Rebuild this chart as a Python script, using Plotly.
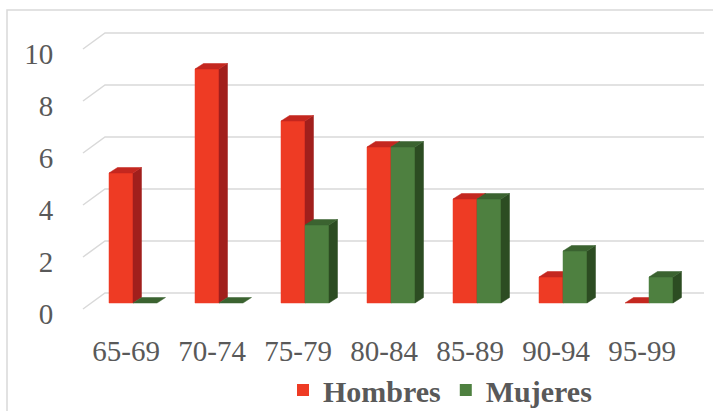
import plotly.graph_objects as go

categories = ["65-69", "70-74", "75-79", "80-84", "85-89", "90-94", "95-99"]
hombres = [5, 9, 7, 6, 4, 1, 0]
mujeres = [0, 0, 3, 6, 4, 2, 1]
y_ticks = [0, 2, 4, 6, 8, 10]

W, H = 713, 411
L, R, T, B = 80, 3, 20, 91
PX_X = 86.0   # px per category
PX_Y = 26.0   # px per unit
X0_PX = 133.0  # pixel of category 0 group center
Y0_PX = 303.0  # pixel of value 0 (front)

pw = W - L - R
ph = H - T - B
x_range = [(L - X0_PX) / PX_X, (L + pw - X0_PX) / PX_X]
y_range = [(Y0_PX - (T + ph)) / PX_Y, (Y0_PX - T) / PX_Y]

bw = 24 / PX_X
dx = 8.5 / PX_X
dy = 5.5 / PX_Y

red_front, red_side, red_top = "#EE3B24", "#A11F1C", "#C4271F"
grn_front, grn_side, grn_top = "#4E8040", "#2C4C22", "#3B6330"
grid_col = "#D9D9D9"
txt_col = "#595959"
font_fam = "Liberation Serif, Times New Roman, serif"

fig = go.Figure()

idx = list(range(len(categories)))
# legend-carrying bar traces (front faces, redrawn on top below)
fig.add_trace(go.Bar(x=[i - bw / 2 for i in idx], y=hombres, width=bw, name="Hombres",
                     marker=dict(color=red_front, line=dict(width=0))))
fig.add_trace(go.Bar(x=[i + bw / 2 for i in idx], y=mujeres, width=bw, name="Mujeres",
                     marker=dict(color=grn_front, line=dict(width=0))))

# gridlines (back wall + left floor diagonal)
gx, gy = [], []
back_off = 10 / PX_Y
front_off = -6 / PX_Y
xl_diag = (83 - X0_PX) / PX_X
xl_back = (105 - X0_PX) / PX_X
xr_back = (704 - X0_PX) / PX_X
for v in y_ticks:
    gx += [xl_diag, xl_back, xr_back, None]
    gy += [v + front_off, v + back_off, v + back_off, None]
fig.add_trace(go.Scatter(x=gx, y=gy, mode="lines", line=dict(color=grid_col, width=1.5),
                         hoverinfo="skip", showlegend=False))


def poly(xs, ys, color):
    fig.add_trace(go.Scatter(x=xs + [xs[0]], y=ys + [ys[0]], mode="lines", fill="toself",
                             fillcolor=color, line=dict(color=color, width=0.5),
                             hoverinfo="skip", showlegend=False))


def bar3d(xl, h, cf, cs, ct):
    xr = xl + bw
    if h > 0:
        poly([xl, xr, xr, xl], [0, 0, h, h], cf)
        poly([xr, xr + dx, xr + dx, xr], [0, dy, h + dy, h], cs)
    poly([xl, xl + dx, xr + dx, xr], [h, h + dy, h + dy, h], ct)


for i in idx:
    bar3d(i - bw, hombres[i], red_front, red_side, red_top)
for i in idx:
    bar3d(i, mujeres[i], grn_front, grn_side, grn_top)

fig.update_layout(
    width=W, height=H,
    margin=dict(l=L, r=R, t=T, b=B, autoexpand=False),
    paper_bgcolor="white", plot_bgcolor="white",
    barmode="overlay",
    showlegend=True,
    legend=dict(orientation="h", x=(440 - L) / pw, xanchor="center",
                y=-(390 - (T + ph)) / ph, yanchor="middle",
                font=dict(family=font_fam, size=30, color=txt_col, weight="bold"),
                itemsizing="constant", bgcolor="rgba(0,0,0,0)", tracegroupgap=0),
    xaxis=dict(range=x_range, showgrid=False, zeroline=False, showline=False,
               tickmode="array", tickvals=[i - 0.08 for i in idx], ticktext=categories,
               ticks="outside", ticklen=5, tickcolor="rgba(0,0,0,0)",
               tickfont=dict(family=font_fam, size=29, color=txt_col)),
    yaxis=dict(range=y_range, showgrid=False, zeroline=False, showline=False,
               tickmode="array", tickvals=[v - 0.4 for v in y_ticks], ticktext=[str(v) for v in y_ticks],
               ticks="outside", ticklen=20, tickcolor="rgba(0,0,0,0)",
               tickfont=dict(family=font_fam, size=29, color=txt_col)),
    shapes=[dict(type="rect", xref="paper", yref="paper",
                 x0=(7 - L) / pw, x1=(720 - L) / pw,
                 y0=((T + ph) - 420) / ph, y1=((T + ph) - 10) / ph,
                 line=dict(color=grid_col, width=1.5), fillcolor="rgba(0,0,0,0)", layer="below")],
)

fig.write_html("out.html")
